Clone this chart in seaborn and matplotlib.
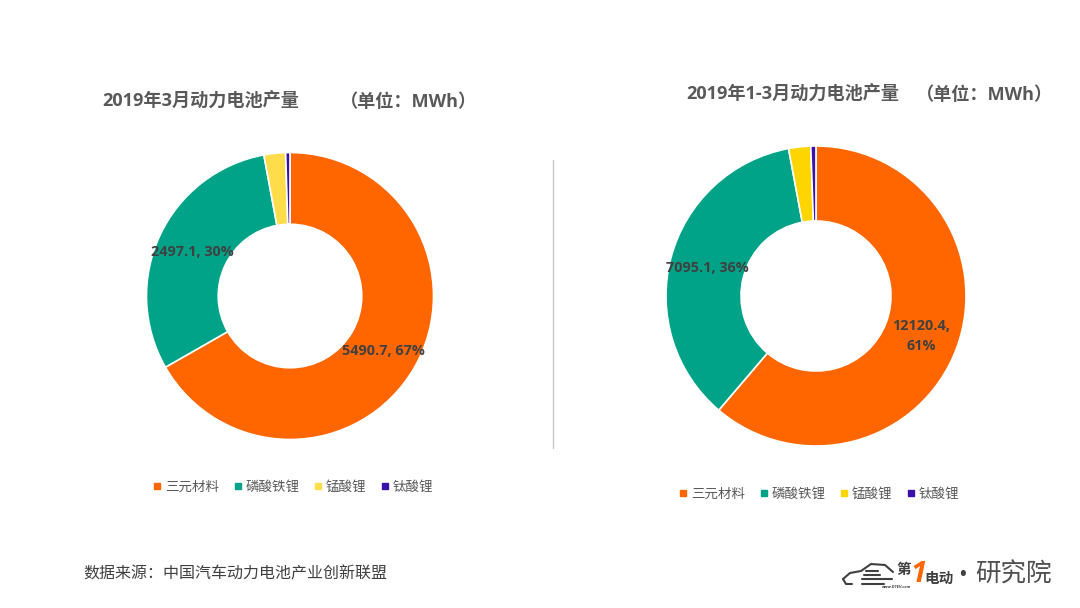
import matplotlib
matplotlib.use("Agg")
import matplotlib.pyplot as plt
from matplotlib.lines import Line2D
import numpy as np
import seaborn as sns

sns.set_theme(style="white")
FONT = ['Open Sans', 'Noto Sans CJK SC', 'DejaVu Sans']
plt.rcParams['font.family'] = FONT

categories = ["三元材料", "磷酸铁锂", "锰酸锂", "钛酸锂"]
march_values = [5490.7, 2497.1, 200, 40]
q1_values = [12120.4, 7095.1, 470, 110]
march_colors = ["#FF6600", "#00A387", "#FFDC4A", "#3A12A8"]
q1_colors = ["#FF6600", "#00A387", "#FFD500", "#3A12A8"]
march_labels = ["5490.7, 67%", "2497.1, 30%"]
q1_labels = ["12120.4,\n61%", "7095.1, 36%"]

W, H = 1080, 608
fig = plt.figure(figsize=(W / 100, H / 100), dpi=100, facecolor="white")


def px_text(x, y, s, **kw):
    kw.setdefault("ha", "left")
    kw.setdefault("va", "center")
    return fig.text(x / W, 1 - y / H, s, **kw)


def px_line(xs, ys, **kw):
    fig.add_artist(Line2D([x / W for x in xs], [1 - y / H for y in ys], **kw))


def donut(cx, cy, R, values, colors, labels, legend_y, legend_x):
    ax = fig.add_axes([(cx - R) / W, 1 - (cy + R) / H, 2 * R / W, 2 * R / H])
    wedges, _ = ax.pie(values, colors=colors, startangle=90, counterclock=False,
                       radius=1, wedgeprops=dict(width=0.5, edgecolor="white", linewidth=1.2))
    ax.set_xlim(-1, 1)
    ax.set_ylim(-1, 1)
    for w, lab in zip(wedges, labels):
        a = np.deg2rad((w.theta1 + w.theta2) / 2)
        ax.text(0.75 * np.cos(a), 0.75 * np.sin(a) - 0.008, lab, ha="center", va="center",
                fontsize=10.4, fontweight="bold", color="#404040", linespacing=1.5, zorder=5)
    handles = [Line2D([], [], linestyle="", marker="s", markersize=5, color=c) for c in colors]
    fig.legend(handles, categories, loc="center", bbox_to_anchor=(legend_x / W, 1 - legend_y / H),
               ncol=4, frameon=False, fontsize=9.7, labelcolor="#595959",
               handletextpad=0.1, columnspacing=0.85, handlelength=1.0, borderpad=0)


donut(290, 296, 143.5, march_values, march_colors, march_labels, 487, 292)
donut(816, 296, 150, q1_values, q1_colors, q1_labels, 494, 818)

TITLE = dict(fontsize=13.1, fontweight="bold", color="#595959")
px_text(102, 102, "2019年3月动力电池产量", **TITLE)
px_text(340, 102, "（单位：MWh）", **TITLE)
px_text(686, 95, "2019年1-3月动力电池产量", **TITLE)
px_text(916, 95, "（单位：MWh）", **TITLE)

px_line([553, 553], [160, 448], color="#C8C8C8", lw=1)

px_text(83, 574, "数据来源：中国汽车动力电池产业创新联盟", fontsize=11.5, color="#404040")

# logo wordmark
car_x = [843, 850, 861, 871, 885, 893]
car_y = [579, 573, 571, 564, 565, 572]
px_line(car_x, car_y, color="#404040", lw=1.5)
px_line([843, 846, 852], [579, 584, 584], color="#404040", lw=1.5)
px_line([862, 884], [584, 584], color="#404040", lw=1.5)
px_line([866, 878], [571, 571], color="#404040", lw=1.5)
px_line([864, 880], [575, 575], color="#404040", lw=1.5)
px_line([862, 892], [579, 579], color="#404040", lw=1.5)
px_text(896, 570, "第", fontsize=10.5, fontweight="bold", style="italic", color="#404040")
px_text(910, 574, "1", fontsize=21, fontweight="bold", style="italic", color="#FF6600")
px_text(924, 579, "电动", fontsize=10.5, fontweight="bold", style="italic", color="#404040")
px_text(882, 587, "www.D1EV.com", fontsize=3, fontweight="bold", style="italic", color="#404040")
px_text(963, 575, "•", fontsize=13, fontweight="bold", color="#404040", ha="center")
px_text(975, 575, "研究院", fontsize=18.4, color="#505050")

fig.savefig("out.png", dpi=100, facecolor="white")
